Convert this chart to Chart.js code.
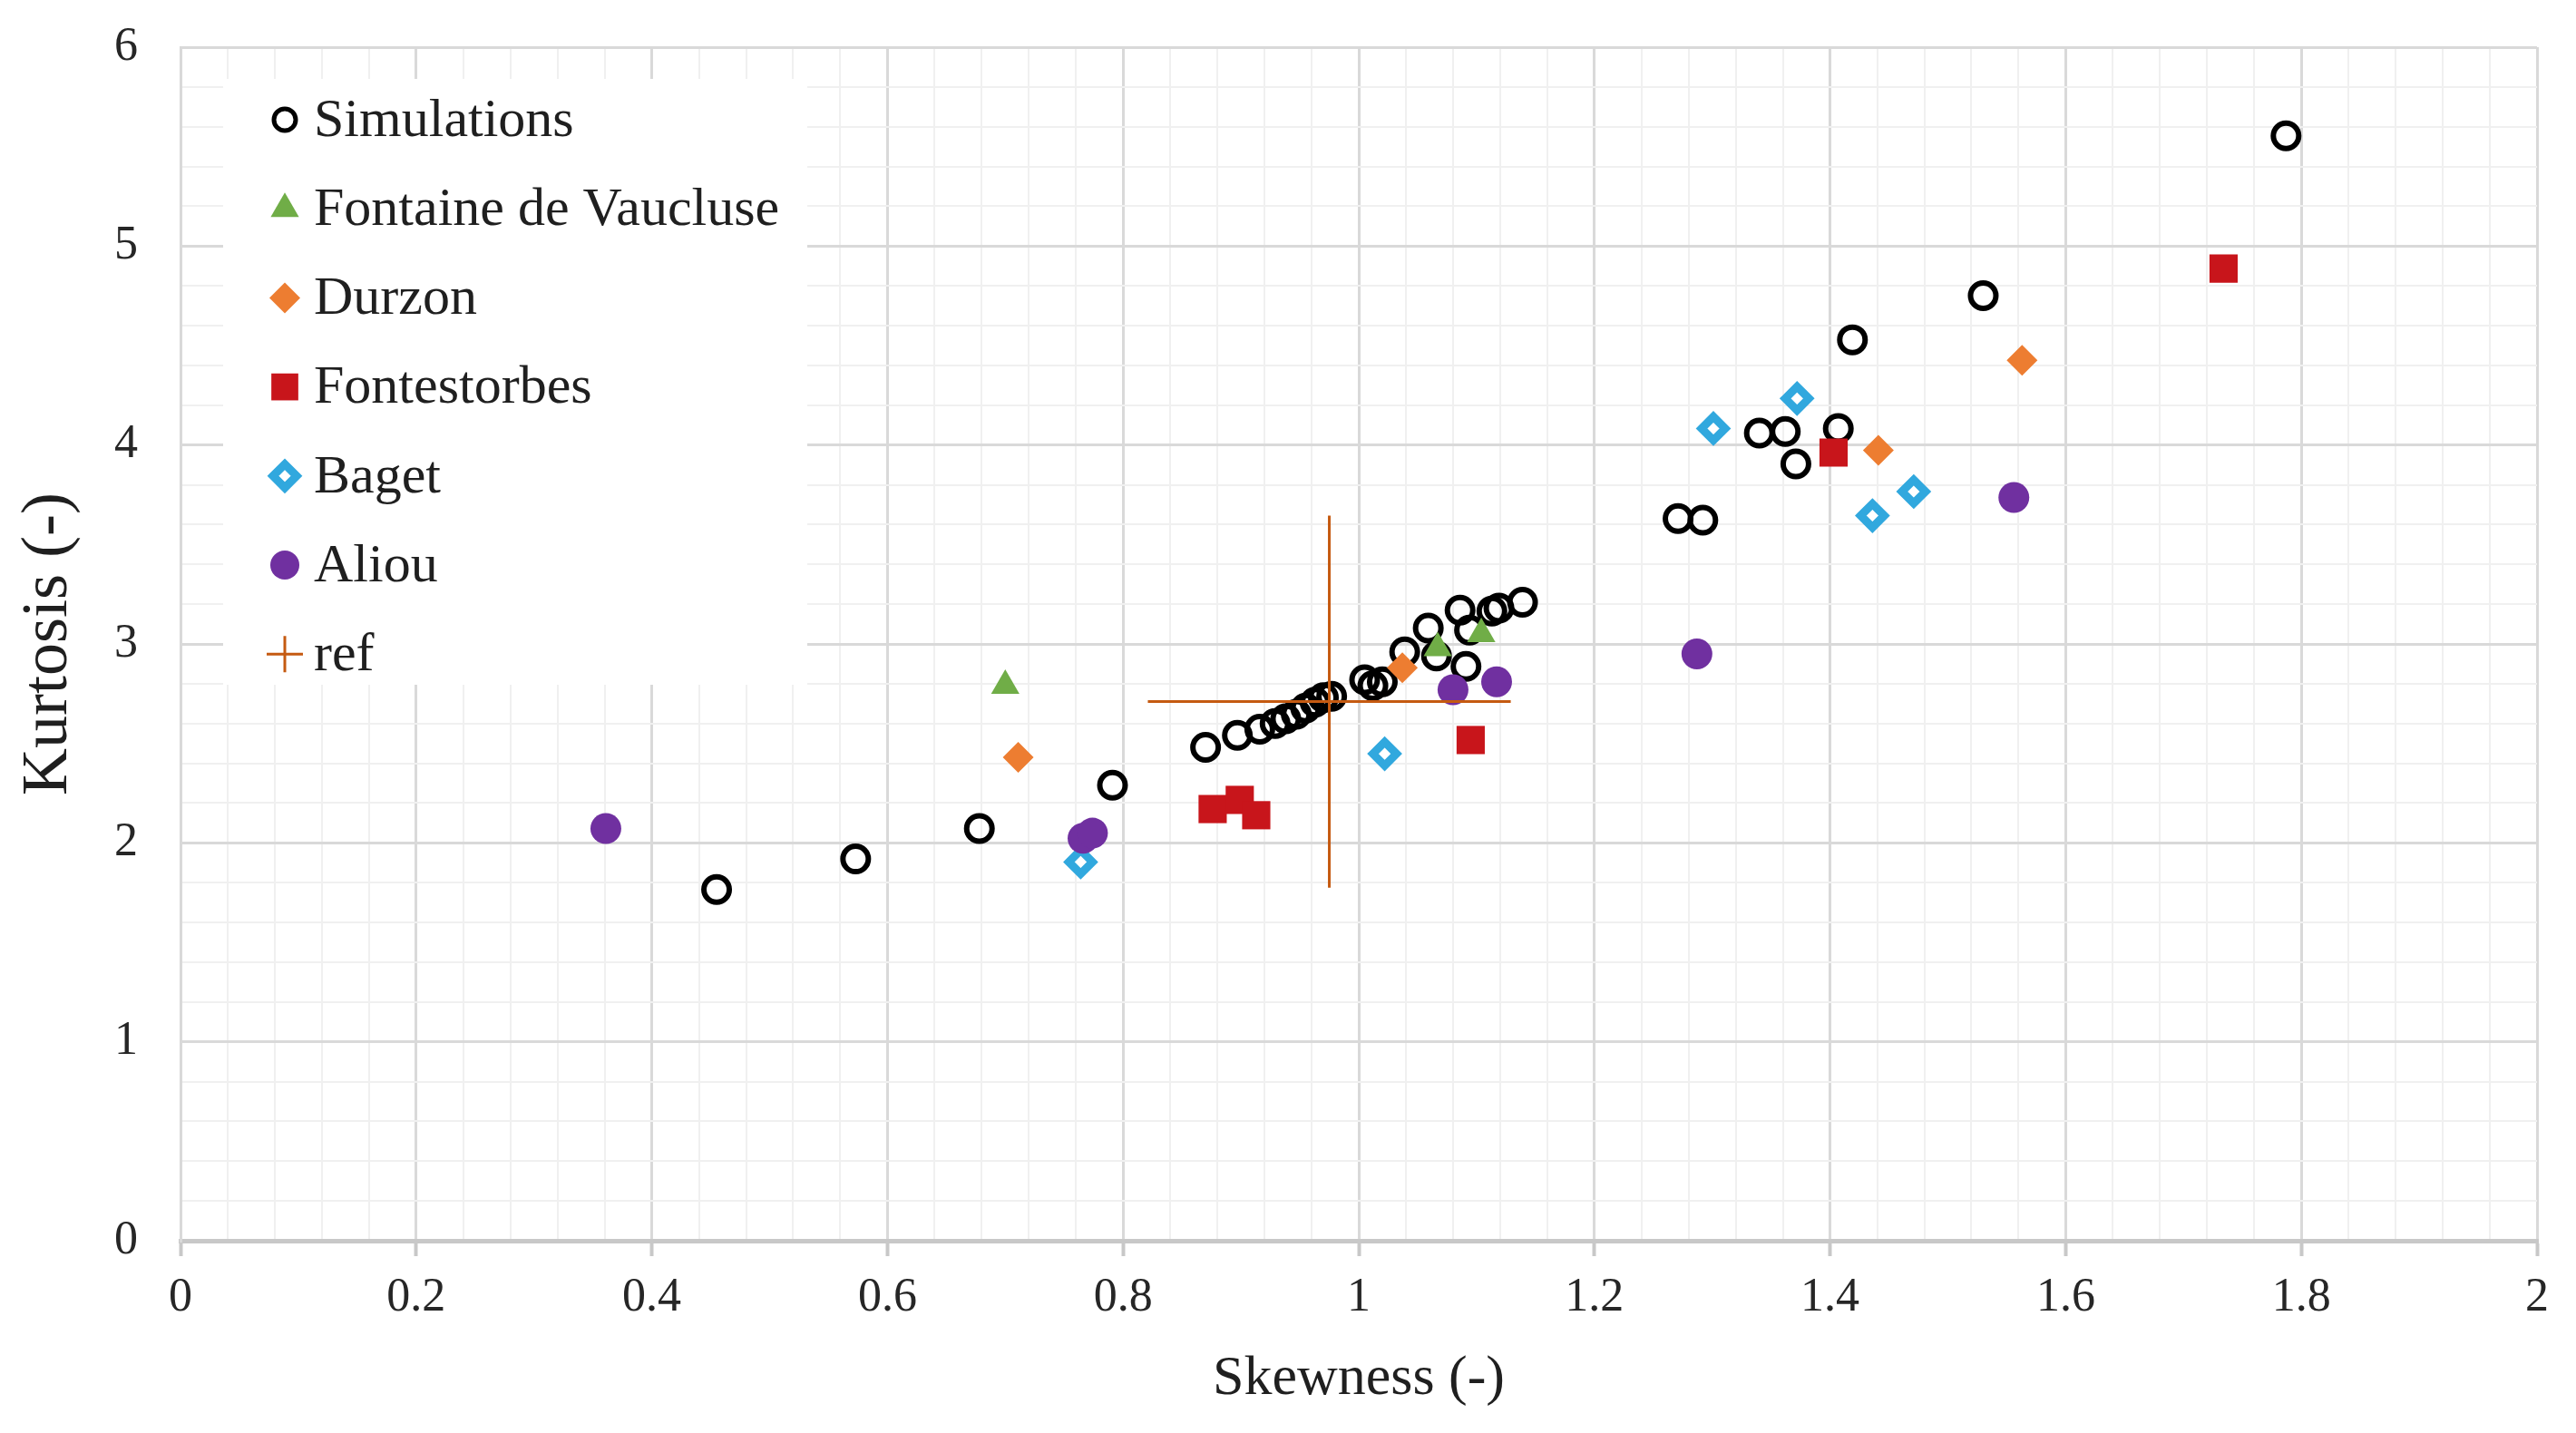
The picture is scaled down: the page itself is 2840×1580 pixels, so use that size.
<!DOCTYPE html>
<html>
<head>
<meta charset="utf-8">
<title>Skewness vs Kurtosis</title>
<script src="https://cdn.jsdelivr.net/npm/chart.js@4.4.1/dist/chart.umd.min.js"></script>
<style>
    html, body { margin: 0; padding: 0; background: #ffffff; }
    #wrap { width: 2840px; height: 1580px; }
</style>
</head>
<body>
<div id="wrap"><canvas id="chart" width="2840" height="1580"></canvas></div>
<script>
// values
const seriesNames = ['Simulations', 'Fontaine de Vaucluse', 'Durzon', 'Fontestorbes', 'Baget', 'Aliou', 'ref'];

const simulationsSkew = [0.455, 0.573, 0.678, 0.791, 0.870, 0.897, 0.916, 0.929, 0.938, 0.947, 0.955, 0.963, 0.970, 0.977,
    1.005, 1.012, 1.020, 1.039, 1.059, 1.066, 1.086, 1.091, 1.094, 1.113, 1.119, 1.139,
    1.271, 1.292, 1.340, 1.362, 1.371, 1.407, 1.419, 1.530, 1.787];
const simulationsKurt = [1.766, 1.919, 2.072, 2.290, 2.48, 2.541, 2.571, 2.60, 2.624, 2.647, 2.677, 2.707, 2.73, 2.737,
    2.82, 2.79, 2.81, 2.96, 3.08, 2.94, 3.17, 2.887, 3.07, 3.165, 3.18, 3.21,
    3.630, 3.622, 4.060, 4.068, 3.905, 4.083, 4.529, 4.751, 5.554];

const vaucluseSkew = [0.700, 1.067, 1.104];
const vaucluseKurt = [2.79, 2.98, 3.05];

const durzonSkew = [0.711, 1.037, 1.441, 1.563];
const durzonKurt = [2.43, 2.88, 3.973, 4.426];

const fontestorbesSkew = [0.876, 0.899, 0.913, 1.095, 1.403, 1.734];
const fontestorbesKurt = [2.17, 2.216, 2.139, 2.517, 3.962, 4.887];

const bagetSkew = [0.764, 1.022, 1.301, 1.372, 1.436, 1.471];
const bagetKurt = [1.904, 2.448, 4.083, 4.234, 3.645, 3.766];

const aliouSkew = [0.361, 0.766, 0.774, 1.080, 1.117, 1.287, 1.556];
const aliouKurt = [2.072, 2.023, 2.049, 2.77, 2.81, 2.95, 3.736];

const refSkew = 0.975;
const refKurt = 2.71;
const refSkewErr = 0.154;
const refKurtErr = 0.935;

const xTickStep = 0.04, xLabelStep = 0.2;
const yTickStep = 0.2, yLabelStep = 1;

const serif = '"Liberation Serif", "Times New Roman", serif';

const zip = (xs, ys) => xs.map((x, i) => ({x: x, y: ys[i]}));
const isMajor = (v, step) => Math.abs(v / step - Math.round(v / step)) < 1e-6;

const refPoints = [
    {x: refSkew - refSkewErr, y: refKurt},
    {x: refSkew + refSkewErr, y: refKurt},
    {x: refSkew, y: null},
    {x: refSkew, y: refKurt - refKurtErr},
    {x: refSkew, y: refKurt + refKurtErr}
];

const datasets = [
    {label: seriesNames[0], data: zip(simulationsSkew, simulationsKurt), order: 6,
        pointStyle: 'circle', pointRadius: 14, borderWidth: 6, borderColor: '#000000', backgroundColor: 'rgba(0,0,0,0)',
        legendMark: {radius: 12, borderWidth: 5}},
    {label: seriesNames[1], data: zip(vaucluseSkew, vaucluseKurt), order: 5,
        pointStyle: 'triangle', pointRadius: 18, borderWidth: 0, borderColor: '#70ad47', backgroundColor: '#70ad47',
        legendMark: {radius: 18, borderWidth: 0}},
    {label: seriesNames[2], data: zip(durzonSkew, durzonKurt), order: 4,
        pointStyle: 'rectRot', pointRadius: 17, borderWidth: 0, borderColor: '#ed7d31', backgroundColor: '#ed7d31',
        legendMark: {radius: 17, borderWidth: 0}},
    {label: seriesNames[3], data: zip(fontestorbesSkew, fontestorbesKurt), order: 3,
        pointStyle: 'rect', pointRadius: 22, borderWidth: 0, borderColor: '#c8151b', backgroundColor: '#c8151b',
        legendMark: {radius: 21, borderWidth: 0}},
    {label: seriesNames[4], data: zip(bagetSkew, bagetKurt), order: 2,
        pointStyle: 'rectRot', pointRadius: 13, borderWidth: 9, borderColor: '#31a8de', backgroundColor: '#ffffff',
        legendMark: {radius: 13, borderWidth: 9}},
    {label: seriesNames[5], data: zip(aliouSkew, aliouKurt), order: 1,
        pointStyle: 'circle', pointRadius: 17, borderWidth: 0, borderColor: '#7030a0', backgroundColor: '#7030a0',
        legendMark: {radius: 16, borderWidth: 0}},
    {label: seriesNames[6], data: refPoints, order: 0, showLine: true, spanGaps: false,
        pointRadius: 0, pointStyle: 'cross', borderWidth: 3, borderColor: '#c55a11', backgroundColor: '#c55a11',
        legendMark: {radius: 20, borderWidth: 3}}
];

// legend on a white card in the upper left of the plot
const boxLegend = {
    id: 'boxLegend',
    beforeDatasetsDraw(chart) {
        const {ctx, chartArea} = chart;
        const left = chartArea.left + 47;
        const top = chartArea.top + 35;
        ctx.save();
        ctx.fillStyle = '#ffffff';
        ctx.fillRect(left, top, 644, 668);
        chart.data.datasets.forEach((ds, i) => {
            const y = chartArea.top + 80 + i * 98.2;
            const mx = chartArea.left + 115;
            ctx.fillStyle = ds.backgroundColor;
            ctx.strokeStyle = ds.borderColor;
            ctx.lineWidth = ds.legendMark.borderWidth;
            Chart.helpers.drawPoint(ctx, {
                pointStyle: ds.pointStyle,
                rotation: 0,
                radius: ds.legendMark.radius,
                borderWidth: ds.legendMark.borderWidth
            }, mx, y);
            ctx.fillStyle = '#1f1f1f';
            ctx.font = '60px ' + serif;
            ctx.textAlign = 'left';
            ctx.textBaseline = 'middle';
            ctx.fillText(ds.label, chartArea.left + 147, y + 2);
        });
        ctx.restore();
    }
};

new Chart(document.getElementById('chart'), {
    type: 'scatter',
    data: {datasets: datasets},
    options: {
        responsive: false,
        devicePixelRatio: 1,
        animation: false,
        layout: {
            padding: {left: 6, right: 43, top: 52, bottom: 15}
        },
        plugins: {
            legend: {display: false},
            tooltip: {enabled: false}
        },
        scales: {
            x: {
                type: 'linear',
                min: 0,
                max: 2,
                afterFit: scale => { scale.height = 197; },
                ticks: {
                    stepSize: xTickStep,
                    autoSkip: false,
                    maxRotation: 0,
                    padding: 15,
                    color: '#262626',
                    font: {family: serif, size: 52},
                    callback: value => isMajor(value, xLabelStep) ? String(Math.round(value * 10) / 10) : ''
                },
                grid: {
                    color: ctx => isMajor(ctx.tick.value, xLabelStep) ? '#d9d9d9' : '#f0f0f0',
                    lineWidth: ctx => isMajor(ctx.tick.value, xLabelStep) ? 3 : 2,
                    tickLength: 17,
                    tickWidth: 4,
                    tickColor: ctx => isMajor(ctx.tick.value, xLabelStep) ? '#c8c8c8' : 'rgba(0,0,0,0)'
                },
                border: {color: '#c8c8c8', width: 5},
                title: {
                    display: true,
                    text: 'Skewness (-)',
                    color: '#1f1f1f',
                    font: {family: serif, size: 62},
                    padding: {top: 0, bottom: 7}
                }
            },
            y: {
                type: 'linear',
                min: 0,
                max: 6,
                afterFit: scale => {
                    scale.width = 193;
                    scale.paddingTop = 0;
                    scale.paddingBottom = 0;
                },
                ticks: {
                    stepSize: yTickStep,
                    autoSkip: false,
                    padding: 47,
                    color: '#262626',
                    font: {family: serif, size: 52},
                    callback: value => isMajor(value, yLabelStep) ? String(Math.round(value)) : ''
                },
                grid: {
                    color: ctx => isMajor(ctx.tick.value, yLabelStep) ? '#d9d9d9' : '#f0f0f0',
                    lineWidth: ctx => isMajor(ctx.tick.value, yLabelStep) ? 3 : 2,
                    drawTicks: false
                },
                border: {color: '#d9d9d9', width: 3},
                title: {
                    display: true,
                    text: 'Kurtosis (-)',
                    color: '#1f1f1f',
                    font: {family: serif, size: 72},
                    padding: {top: 5, bottom: 0}
                }
            }
        }
    },
    plugins: [boxLegend]
});
</script>
</body>
</html>
